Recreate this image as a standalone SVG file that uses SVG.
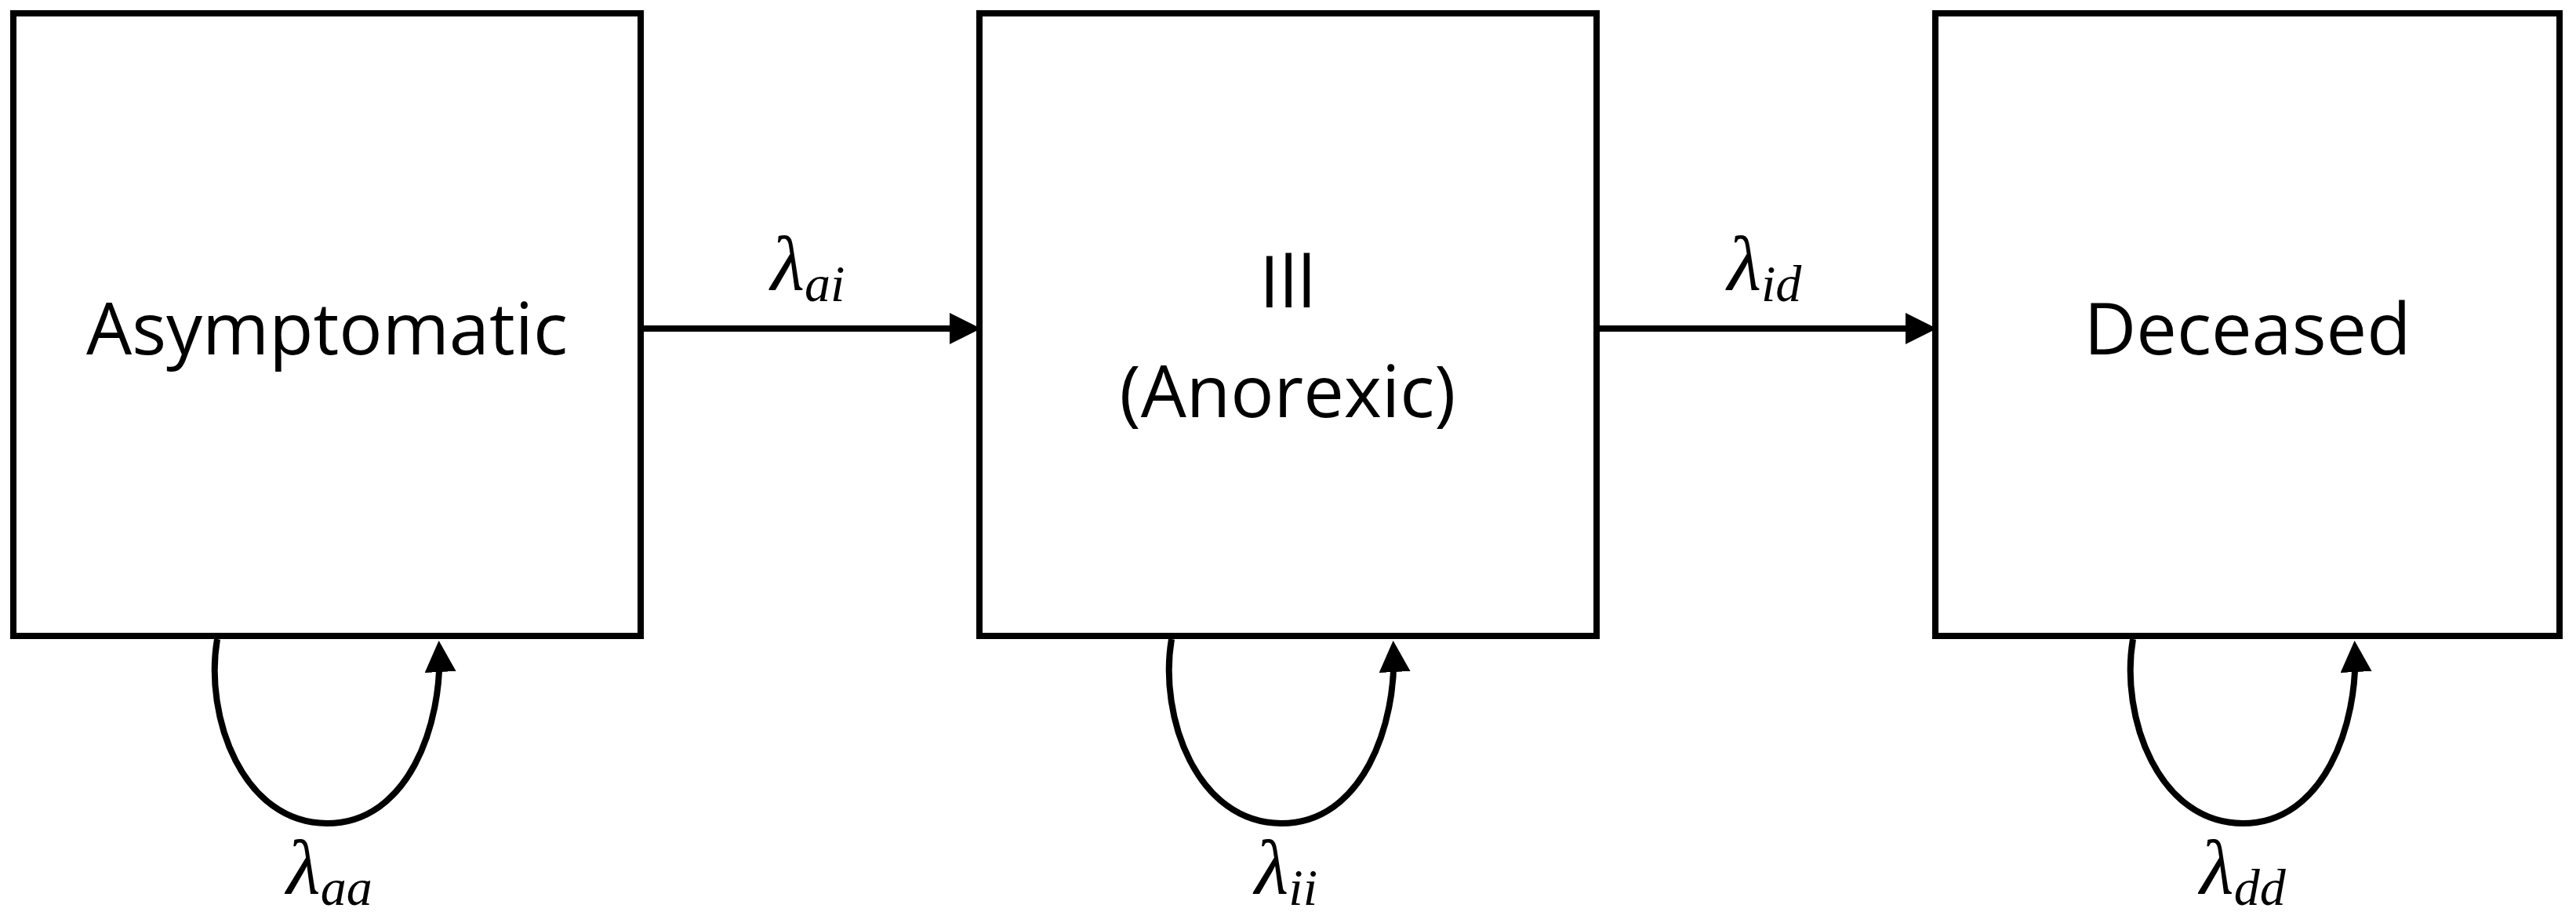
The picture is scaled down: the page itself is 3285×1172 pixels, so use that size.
<svg xmlns="http://www.w3.org/2000/svg" width="3285" height="1172" viewBox="0 0 3285 1172">
<defs><marker id="ah" markerWidth="5" markerHeight="5" refX="4" refY="2.5" orient="auto" markerUnits="strokeWidth"><path d="M0,0 L5,2.5 L0,5 z" fill="#000"/></marker>
<style>.b{fill:#fff;stroke:#000;stroke-width:8}.t{font-family:"Open Sans","Liberation Sans",sans-serif;font-size:92px;text-anchor:middle}.l{font-family:"Liberation Serif",serif;font-style:italic;font-size:100px;text-anchor:middle}.s{font-size:66px}.c{fill:none;stroke:#000;stroke-width:8}</style></defs>
<rect width="3285" height="1172" fill="#fff"/>
<g id="asym"><rect class="b" x="17" y="17" width="800" height="794"/><text class="t" x="417" y="452">Asymptomatic</text></g>
<g id="ill"><rect class="b" x="1249" y="17" width="787" height="794"/><text class="t" x="1642" y="392">Ill</text><text class="t" x="1642" y="532">(Anorexic)</text></g>
<g id="dec"><rect class="b" x="2468" y="17" width="796" height="794"/><text class="t" x="2866" y="452">Deceased</text></g>
<g id="connectors">
<line class="c" x1="817" y1="419" x2="1243" y2="419" marker-end="url(#ah)"/>
<line class="c" x1="2036" y1="419" x2="2462" y2="419" marker-end="url(#ah)"/>
<path class="c" d="M277,815 C260,915 310,1050 417,1050 C520,1050 565,925 560,825" marker-end="url(#ah)"/>
<path class="c" d="M1494,815 C1477,915 1527,1050 1634,1050 C1737,1050 1782,925 1777,825" marker-end="url(#ah)"/>
<path class="c" d="M2720,815 C2703,915 2753,1050 2860,1050 C2963,1050 3008,925 3003,825" marker-end="url(#ah)"/>
</g>
<text class="l" x="1030" y="370">λ<tspan class="s" dy="14">ai</tspan></text>
<text class="l" x="2250" y="370">λ<tspan class="s" dy="14">id</tspan></text>
<text class="l" x="420" y="1140">λ<tspan class="s" dy="14">aa</tspan></text>
<text class="l" x="1640" y="1140">λ<tspan class="s" dy="14">ii</tspan></text>
<text class="l" x="2860" y="1140">λ<tspan class="s" dy="14">dd</tspan></text>
</svg>
